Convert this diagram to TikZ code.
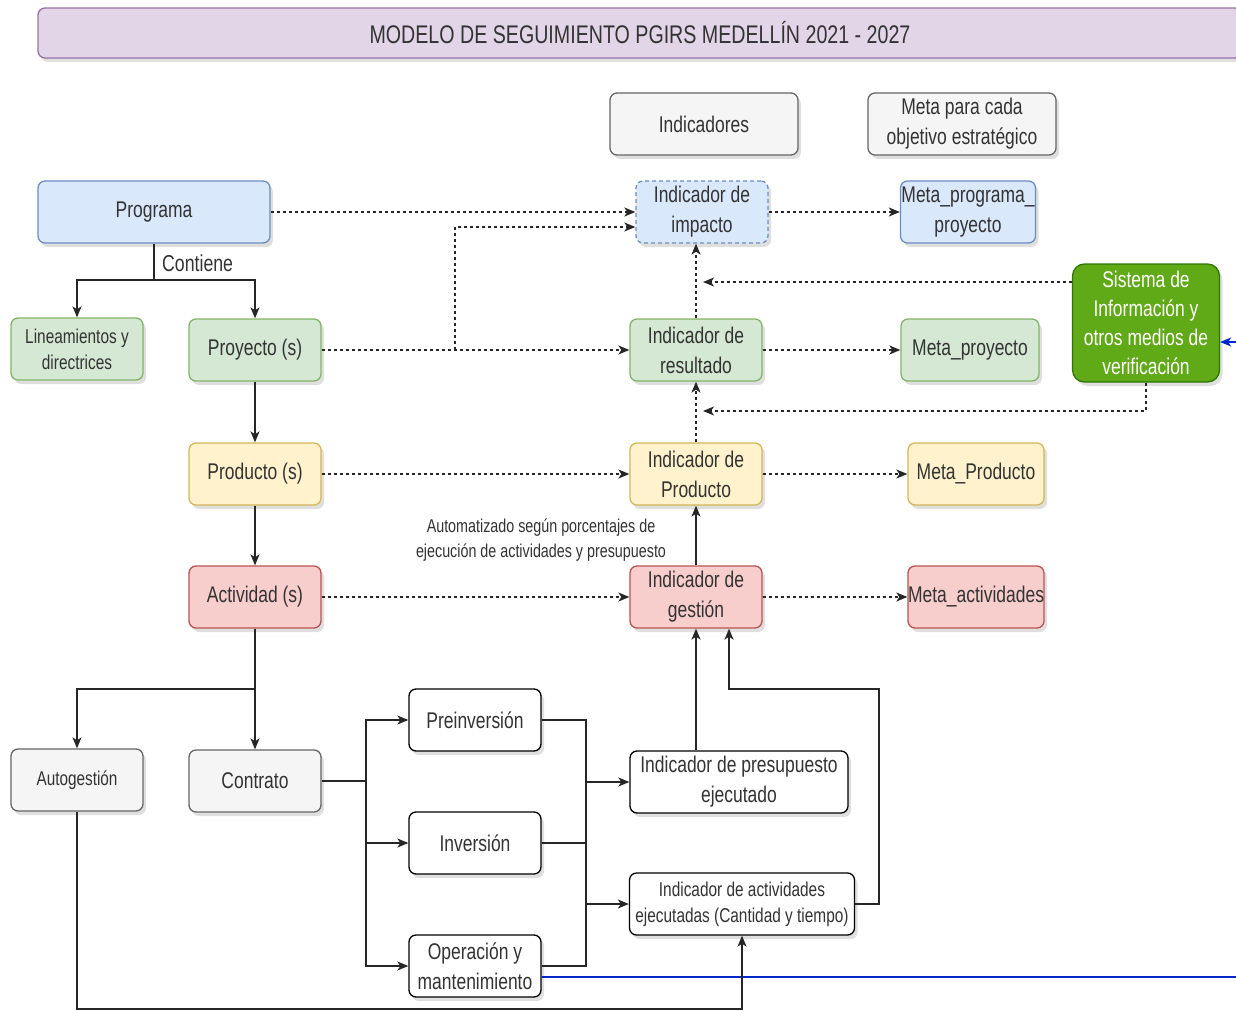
\documentclass[tikz,border=0pt]{standalone}
\usepackage{fontspec}
\setmainfont{Liberation Sans}[FakeStretch=0.77]
\usetikzlibrary{arrows.meta,shadows,calc}
\definecolor{txt}{HTML}{333333}
\definecolor{purpF}{HTML}{E1D5E7}\definecolor{purpD}{HTML}{9673A6}
\definecolor{grayF}{HTML}{F5F5F5}\definecolor{grayD}{HTML}{666666}
\definecolor{blueF}{HTML}{DAE8FC}\definecolor{blueD}{HTML}{6C8EBF}
\definecolor{greenF}{HTML}{D5E8D4}\definecolor{greenD}{HTML}{82B366}
\definecolor{yelF}{HTML}{FFF2CC}\definecolor{yelD}{HTML}{D6B656}
\definecolor{redF}{HTML}{F8CECC}\definecolor{redD}{HTML}{B85450}
\definecolor{sisF}{HTML}{60A917}\definecolor{sisD}{HTML}{2D7600}
\definecolor{bl}{HTML}{0027CC}
\tikzset{
  box/.style={draw, rounded corners=7pt, line width=1.3pt, align=center, text=txt,
    font=\fontsize{22.7}{30}\selectfont, inner sep=0pt,
    drop shadow={opacity=0.25, shadow xshift=3pt, shadow yshift=-4pt}},
  gbox/.style={box, fill=grayF, draw=grayD},
  bbox/.style={box, fill=blueF, draw=blueD},
  grbox/.style={box, fill=greenF, draw=greenD},
  ybox/.style={box, fill=yelF, draw=yelD},
  rbox/.style={box, fill=redF, draw=redD},
  wbox/.style={box, fill=white, draw=black},
  dotline/.style={line width=1.6pt, dash pattern=on 3pt off 3pt, draw=black!85},
  solid line/.style={line width=1.6pt, draw=black!85},
  tip/.style={-{Stealth[length=11pt,width=9pt,inset=3pt]}},
}
\begin{document}
\begin{tikzpicture}[x=1pt,y=-1pt]
\useasboundingbox (0,0) rectangle (1236,1011);
\clip (0,0) rectangle (1236,1011);
% title
\node[box, fill=purpF, draw=purpD, minimum width=1204, minimum height=50, font=\fontsize{25.5}{30}\selectfont] (title) at (640,33) {MODELO DE SEGUIMIENTO PGIRS MEDELLÍN 2021 - 2027};
% header boxes
\node[gbox, minimum width=188, minimum height=62] (ind) at (704,124) {Indicadores};
\node[gbox, minimum width=188, minimum height=62] (meta) at (962,124) {Meta para cada\\objetivo estratégico};
% row 1
\node[bbox, minimum width=232, minimum height=62] (prog) at (154,212) {Programa};
\node[bbox, dashed, dash pattern=on 4pt off 3pt, minimum width=132, minimum height=62] (imp) at (702,212) {Indicador de\\impacto};
\node[bbox, minimum width=135, minimum height=62] (mprog) at (968,212) {Meta\_programa\_\\proyecto};
% row 2
\node[grbox, minimum width=132, minimum height=62, font=\fontsize{20}{26}\selectfont] (lin) at (77,349) {Lineamientos y\\directrices};
\node[grbox, minimum width=132, minimum height=62] (proy) at (255,350) {Proyecto (s)};
\node[grbox, minimum width=132, minimum height=62] (res) at (696,350) {Indicador de\\resultado};
\node[grbox, minimum width=138, minimum height=62] (mproy) at (970,350) {Meta\_proyecto};
\node[box, fill=sisF, draw=sisD, text=white, minimum width=147, minimum height=118, rounded corners=12pt, font=\fontsize{22.7}{29}\selectfont] (sis) at (1146,323) {Sistema de\\Información y\\otros medios de\\verificación};
% row 3
\node[ybox, minimum width=132, minimum height=62] (prod) at (255,474) {Producto (s)};
\node[ybox, minimum width=132, minimum height=62] (iprod) at (696,474) {Indicador de\\Producto};
\node[ybox, minimum width=136, minimum height=62] (mprod) at (976,474) {Meta\_Producto};
% row 4
\node[rbox, minimum width=132, minimum height=62] (act) at (255,597) {Actividad (s)};
\node[rbox, minimum width=132, minimum height=62] (ges) at (696,597) {Indicador de\\gestión};
\node[rbox, minimum width=136, minimum height=62] (mact) at (976,597) {Meta\_actividades};
\node[text=txt, align=center, font=\fontsize{18.6}{25}\selectfont] (auto) at (541,540) {Automatizado según porcentajes de\\ejecución de actividades y presupuesto};
% bottom
\node[gbox, minimum width=132, minimum height=62, font=\fontsize{19.9}{24}\selectfont] (autog) at (77,780) {Autogestión};
\node[gbox, minimum width=132, minimum height=62] (con) at (255,781) {Contrato};
\node[wbox, minimum width=132, minimum height=62] (pre) at (475,720) {Preinversión};
\node[wbox, minimum width=132, minimum height=62] (inv) at (475,843) {Inversión};
\node[wbox, minimum width=132, minimum height=62] (ope) at (475,966) {Operación y\\mantenimiento};
\node[wbox, minimum width=218, minimum height=62] (ipre) at (739,782) {Indicador de presupuesto\\ejecutado};
\node[wbox, minimum width=225, minimum height=62, font=\fontsize{20}{26}\selectfont] (iact) at (742,904) {Indicador de actividades\\ejecutadas (Cantidad y tiempo)};

% Programa tree
\coordinate (pj) at (154,280);
\draw[solid line] (prog.south) -- (pj);
\node[text=txt, font=\fontsize{23}{26}\selectfont, anchor=west, inner sep=0pt] (cont) at (162,263) {Contiene};
\draw[solid line, tip] (pj) -| (lin.north);
\draw[solid line, tip] (pj) -| (proy.north);
\draw[solid line, tip] (proy.south) -- (prod.north);
\draw[solid line, tip] (prod.south) -- (act.north);

% dotted horizontals
\draw[dotline, tip] (prog.east) -- (imp.west |- prog.east);
\draw[dotline, tip] (proy.east) -- (res.west);
\coordinate (pj2) at (455,350);
\draw[dotline, tip] (pj2) |- ([yshift=-15pt]imp.west);
\draw[dotline, tip] (imp.east) -- (mprog.west);
\draw[dotline, tip] (res.east) -- (mproy.west);
\draw[dotline, tip] (prod.east) -- (iprod.west);
\draw[dotline, tip] (iprod.east) -- (mprod.west);
\draw[dotline, tip] (act.east) -- (ges.west);
\draw[dotline, tip] (ges.east) -- (mact.west);
% vertical indicator chain
\draw[dotline, tip] (res.north) -- (res.north |- imp.south);
\draw[dotline, tip] (iprod.north) -- (res.south);
\draw[solid line, tip] (ges.north) -- (iprod.south);
% Sistema links
\coordinate (s1) at (703,282);
\coordinate (s2) at (703,411);
\draw[dotline, tip] ([yshift=41pt]sis.west) -- (s1);
\draw[dotline, tip] (sis.south) |- (s2);
\coordinate (bx) at (1262,342);
\draw[line width=1.3pt, bl, -{Stealth[length=11pt,width=9pt,inset=3pt]}] ([yshift=-11pt]ope.east) -| (bx) -- ([yshift=-19pt]sis.east);

% Actividad tree
\coordinate (aj) at (255,689);
\draw[solid line] (act.south) -- (aj);
\draw[solid line, tip] (aj) -| (autog.north);
\draw[solid line, tip] (aj) -- (con.north);
% Contrato fan-out
\coordinate (cj) at (366,781);
\draw[solid line] (con.east) -- (cj);
\draw[solid line, tip] (cj) |- (pre.west);
\draw[solid line, tip] (cj) |- (inv.west);
\draw[solid line, tip] (cj) |- (ope.west);
% fan-in
\coordinate (fa) at (586,720);
\coordinate (fb) at (586,966);
\draw[solid line] (pre.east) -- (fa) -- (fb) -- (ope.east);
\draw[solid line] (inv.east) -- (inv.east -| fa);
\draw[solid line, tip] (fa |- ipre.west) -- (ipre.west);
\draw[solid line, tip] (fa |- iact.west) -- (iact.west);
% up to gestion
\draw[solid line, tip] (ipre.north -| ges.south) -- (ges.south);
\coordinate (r1) at (879,689);
\draw[solid line, tip] (iact.east) -| (r1) -| ([xshift=33pt]ges.south);
\coordinate (b1) at (77,1009);
\draw[solid line, tip] (autog.south) -- (b1) -| (iact.south);
\end{tikzpicture}
\end{document}
